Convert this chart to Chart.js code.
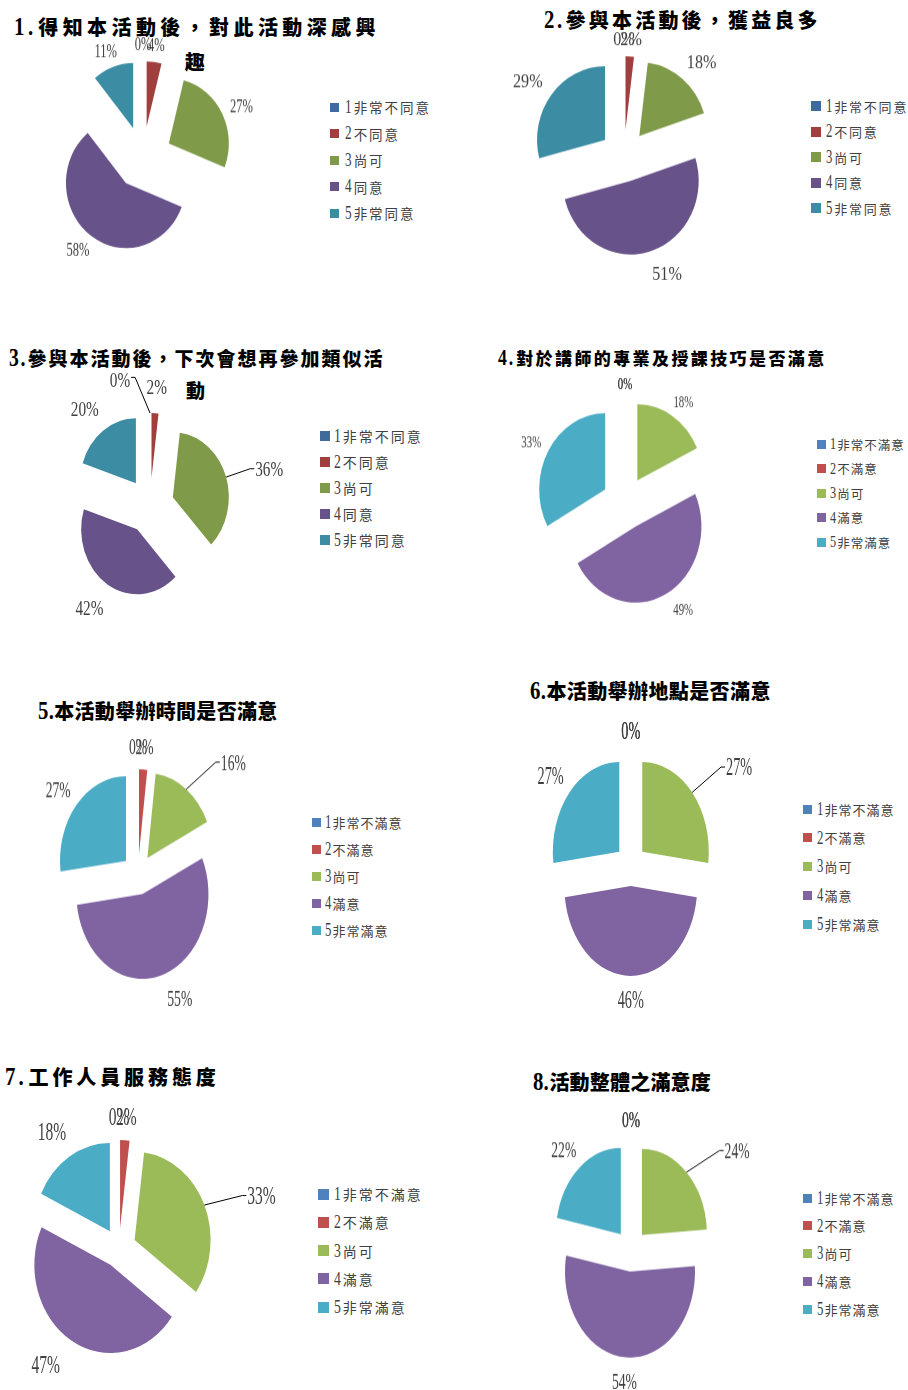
<!DOCTYPE html>
<html lang="zh-Hant">
<head>
  <meta charset="UTF-8">
  <meta name="viewport" content="width=device-width, initial-scale=1.0">
  <title>活動回饋問卷統計</title>
  <script src="https://cdn.jsdelivr.net/npm/chart.js"></script>
  <style>
    body {
      margin: 0;
      width: 908px;
      height: 1390px;
      position: relative;
      overflow: hidden;
      background: #fff;
    }
    .pie-title {
      position: absolute;
      width: 500px;
      text-align: center;
      white-space: nowrap;
      font-family: "Liberation Serif", "Noto Sans CJK TC", serif;
      font-weight: 900;
      color: #000;
    }
    .pie-title .num {
      display: inline-block;
      font-size: 1.3em;
      line-height: 1;
      transform: scaleX(0.8);
      transform-origin: left center;
      margin-right: -0.15em;
    }
    .pie-box {
      position: absolute;
    }
    .legend-row {
      position: absolute;
      height: 20px;
      display: flex;
      align-items: center;
      white-space: nowrap;
      font-family: "Liberation Serif", "Noto Sans CJK TC", serif;
      color: #404040;
    }
    .legend-row .num {
      display: inline-block;
      font-size: 1.4em;
      line-height: 1;
      transform: scaleX(0.7);
      transform-origin: left center;
      margin-right: -0.15em;
    }
    .legend-swatch {
      position: absolute;
      left: 0;
    }
  </style>
</head>
<body>
<script>
  // answer options
  const agreeLabels = ['1非常不同意', '2不同意', '3尚可', '4同意', '5非常同意'];
  const satisfyLabels = ['1非常不滿意', '2不滿意', '3尚可', '4滿意', '5非常滿意'];

  const titles = [
    '1.得知本活動後，對此活動深感興趣',
    '2.參與本活動後，獲益良多',
    '3.參與本活動後，下次會想再參加類似活動',
    '4.對於講師的專業及授課技巧是否滿意',
    '5.本活動舉辦時間是否滿意',
    '6.本活動舉辦地點是否滿意',
    '7.工作人員服務態度',
    '8.活動整體之滿意度'
  ];

  // percentages for answers 1..5
  const q1 = [0, 4, 27, 58, 11];
  const q2 = [0, 2, 18, 51, 29];
  const q3 = [0, 2, 36, 42, 20];
  const q4 = [0, 0, 18, 49, 33];
  const q5 = [0, 2, 16, 55, 27];
  const q6 = [0, 0, 27, 46, 27];
  const q7 = [0, 2, 33, 47, 18];
  const q8 = [0, 0, 24, 54, 22];

  const darkColors = ['#3F6A9C', '#A0403E', '#7F9A48', '#67528A', '#3C8DA3'];
  const lightColors = ['#4F81BD', '#C0504D', '#9BBB59', '#8064A2', '#4BACC6'];

  // layout of each panel (pie centre, radius, vertical stretch, explosion, label font)
  const panels = [
    { values: q1, labels: agreeLabels, colors: darkColors, title: titles[0],
      pie: { cx: 142.5, cy: 157.5, r: 60, k: 1.08, d: 29, gap: 10, F: 18.7, c: 0.67, moves: {} },
      head: { x: 192.5, y: 28, fs: 20, ls: 4.4, wrap: 16, lh: 35 },
      key: { x: 330, tx: 345, y: 107, step: 26.5, sw: 9, fs: 13.5, ls: 2 } },
    { values: q2, labels: agreeLabels, colors: darkColors, title: titles[1],
      pie: { cx: 623.5, cy: 155.5, r: 68, k: 1.08, d: 24, gap: 15, F: 19.4, c: 0.83,
             moves: { 0: { extra: -5 }, 1: { extra: -5 }, 3: { da: -4, extra: 3 } } },
      head: { x: 679, y: 21, fs: 20, ls: 3.2, wrap: 0, lh: 30 },
      key: { x: 811, tx: 826, y: 106, step: 25.5, sw: 10, fs: 13, ls: 1.8 } },
    { values: q3, labels: agreeLabels, colors: darkColors, title: titles[2],
      pie: { cx: 150, cy: 505.7, r: 56, k: 1.16, d: 24, gap: 17, F: 20.9, c: 0.73,
             moves: { 0: { da: -15, extra: 9, leader: true, dy: -3 }, 2: { da: 2, extra: 13, leader: true, dy: 0 }, 3: { extra: 2 } } },
      head: { x: 194.5, y: 360, fs: 19, ls: 2, wrap: 19, lh: 32 },
      key: { x: 320, tx: 334, y: 436, step: 26, sw: 10, fs: 14, ls: 2 } },
    { values: q4, labels: satisfyLabels, colors: lightColors, title: titles[3],
      pie: { cx: 625, cy: 502.4, r: 66, k: 1.15, d: 23, gap: 10, F: 16.4, c: 0.66,
             moves: { 3: { da: -4, extra: 4 } } },
      head: { x: 660, y: 360, fs: 17, ls: 2.4, wrap: 0, lh: 26 },
      key: { x: 817, tx: 830, y: 444, step: 24.5, sw: 9, fs: 12.5, ls: 1 } },
    { values: q5, labels: satisfyLabels, colors: lightColors, title: titles[4],
      pie: { cx: 138, cy: 874, r: 66, k: 1.28, d: 16, gap: 12, F: 23.1, c: 0.59,
             moves: { 2: { da: 10, extra: 26, leader: true, dy: 0 }, 3: { da: -6, extra: 4 } } },
      head: { x: 157.5, y: 712, fs: 20, ls: 0.3, wrap: 0, lh: 30 },
      key: { x: 312, tx: 325, y: 822, step: 27, sw: 9, fs: 13, ls: 1 } },
    { values: q6, labels: satisfyLabels, colors: lightColors, title: titles[5],
      pie: { cx: 630.5, cy: 865, r: 66.5, k: 1.35, d: 15.3, gap: 12, F: 24.6, c: 0.58,
             moves: { 2: { da: 6, extra: 26, leader: true, dy: 0 } } },
      head: { x: 650, y: 692, fs: 20, ls: 0.4, wrap: 0, lh: 30 },
      key: { x: 803, tx: 817, y: 809, step: 28.75, sw: 9, fs: 13, ls: 1 } },
    { values: q7, labels: satisfyLabels, colors: lightColors, title: titles[6],
      pie: { cx: 119, cy: 1247.4, r: 76, k: 1.16, d: 17, gap: 18, F: 24.6, c: 0.63,
             moves: { 0: { extra: -5 }, 1: { extra: -5 }, 2: { da: 5, extra: 25, leader: true, dy: 0 }, 3: { da: 4, extra: 4 } } },
      head: { x: 108.5, y: 1078, fs: 20, ls: 3.9, wrap: 0, lh: 30 },
      key: { x: 318, tx: 334, y: 1194, step: 28.25, sw: 11, fs: 14, ls: 2 } },
    { values: q8, labels: satisfyLabels, colors: lightColors, title: titles[7],
      pie: { cx: 631, cy: 1250.4, r: 65, k: 1.32, d: 16, gap: 12, F: 23.9, c: 0.57,
             moves: { 2: { da: 10, extra: 27, leader: true, dy: 0 } } },
      head: { x: 622, y: 1083, fs: 20, ls: 0.2, wrap: 0, lh: 30 },
      key: { x: 803, tx: 817, y: 1198, step: 27.75, sw: 9, fs: 13, ls: 1 } }
  ];

  // explodes the slices, stretches the pie vertically and writes the percentages
  function makePiePlugin(p) {
    return {
      id: 'explodedPie',
      afterDatasetUpdate(chart, args) {
        args.meta.data.forEach(arc => {
          const mid = (arc.startAngle + arc.endAngle) / 2;
          arc.x += Math.cos(mid) * p.d;
          arc.y += Math.sin(mid) * p.d;
        });
      },
      beforeDatasetsDraw(chart) {
        const { ctx, chartArea } = chart;
        const cx = (chartArea.left + chartArea.right) / 2;
        const cy = (chartArea.top + chartArea.bottom) / 2;
        ctx.save();
        ctx.translate(cx, cy);
        ctx.scale(1, p.k);
        ctx.translate(-cx, -cy);
      },
      afterDatasetsDraw(chart) {
        const { ctx, chartArea } = chart;
        ctx.restore();
        const cx = (chartArea.left + chartArea.right) / 2;
        const cy = (chartArea.top + chartArea.bottom) / 2;
        const values = chart.data.datasets[0].data;
        const meta = chart.getDatasetMeta(0);
        ctx.save();
        ctx.font = p.F + 'px "Liberation Serif"';
        ctx.textAlign = 'center';
        ctx.textBaseline = 'alphabetic';
        meta.data.forEach((arc, i) => {
          const mid0 = (arc.startAngle + arc.endAngle) / 2;
          const mv = p.moves[i] || {};
          const m = mid0 + (mv.da || 0) * Math.PI / 180;
          const text = values[i] + '%';
          const w = ctx.measureText(text).width * p.c;
          const h = p.F * 0.66;
          const rho = p.r + p.d + p.gap + (mv.extra || 0);
          const lx = cx + rho * Math.cos(m) + Math.cos(m) * w / 2;
          const ly = cy + rho * Math.sin(m) * p.k + Math.sin(m) * h / 2;

          ctx.save();
          ctx.fillStyle = '#404040';
          ctx.translate(lx, ly + h / 2);
          ctx.scale(p.c, 1);
          ctx.fillText(text, 0, 0);
          ctx.restore();

          if (mv.leader) {
            const px = cx + (p.r + p.d) * Math.cos(mid0);
            const py = cy + (p.r + p.d) * Math.sin(mid0) * p.k;
            const side = lx > px ? -1 : 1;
            const ex = lx + side * (w / 2 + 1);
            const ey = ly + (mv.dy || 0);
            ctx.beginPath();
            ctx.strokeStyle = '#000';
            ctx.lineWidth = 1;
            ctx.moveTo(px, py);
            ctx.lineTo(ex + side * 4, ey);
            ctx.lineTo(ex, ey);
            ctx.stroke();
          }
        });
        ctx.restore();
      }
    };
  }

  // leading number gets its own taller span, like the original
  function numbered(el, text) {
    const mt = text.match(/^(\d+\.?)(.*)$/);
    const num = document.createElement('span');
    num.className = 'num';
    num.textContent = mt[1];
    el.appendChild(num);
    el.appendChild(document.createTextNode(mt[2]));
  }

  panels.forEach(panel => {
    const p = panel.pie;

    // title
    const t = panel.head;
    const lines = t.wrap ? [panel.title.slice(0, t.wrap), panel.title.slice(t.wrap)] : [panel.title];
    const title = document.createElement('div');
    title.className = 'pie-title';
    title.style.left = (t.x - 250) + 'px';
    title.style.top = (t.y - t.lh / 2) + 'px';
    title.style.fontSize = t.fs + 'px';
    title.style.letterSpacing = t.ls + 'px';
    title.style.paddingLeft = t.ls + 'px';
    title.style.lineHeight = t.lh + 'px';
    numbered(title, lines[0]);
    if (lines[1]) {
      title.appendChild(document.createElement('br'));
      title.appendChild(document.createTextNode(lines[1]));
    }
    document.body.appendChild(title);

    // legend
    const key = panel.key;
    panel.labels.forEach((label, i) => {
      const row = document.createElement('div');
      row.className = 'legend-row';
      row.style.left = key.x + 'px';
      row.style.top = (key.y + i * key.step - 10) + 'px';
      row.style.paddingLeft = (key.tx - key.x) + 'px';
      row.style.fontSize = key.fs + 'px';
      row.style.letterSpacing = key.ls + 'px';
      const sw = document.createElement('span');
      sw.className = 'legend-swatch';
      sw.style.width = key.sw + 'px';
      sw.style.height = key.sw + 'px';
      sw.style.top = (10 - key.sw / 2) + 'px';
      sw.style.background = panel.colors[i];
      row.appendChild(sw);
      numbered(row, label);
      document.body.appendChild(row);
    });

    // pie canvas centred on the pie
    const halfW = p.r + p.d + 110;
    const halfH = (p.r + p.d) * p.k + 70;
    const box = document.createElement('div');
    box.className = 'pie-box';
    box.style.left = (p.cx - halfW) + 'px';
    box.style.top = (p.cy - halfH) + 'px';
    box.style.width = (halfW * 2) + 'px';
    box.style.height = (halfH * 2) + 'px';
    const canvas = document.createElement('canvas');
    box.appendChild(canvas);
    document.body.appendChild(box);

    new Chart(canvas, {
      type: 'pie',
      data: {
        labels: panel.labels,
        datasets: [{
          data: panel.values,
          backgroundColor: panel.colors,
          borderWidth: 0,
          radius: p.r
        }]
      },
      options: {
        responsive: true,
        maintainAspectRatio: false,
        animation: false,
        events: [],
        layout: { padding: 0 },
        plugins: {
          legend: { display: false },
          tooltip: { enabled: false }
        }
      },
      plugins: [makePiePlugin(p)]
    });
  });
</script>
</body>
</html>
